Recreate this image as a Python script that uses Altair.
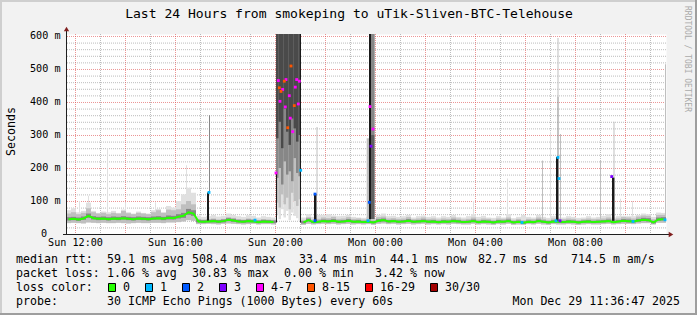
import altair as alt
import pandas as pd

MONO = "DejaVu Sans Mono"
LEFT, TOP = 66, 34          # plot origin inside the 697x315 page
T_START, T_END = 11.64, 35.64   # hours since Sun 00:00
BIN_H = 0.2                 # 12-minute bins
Y_TOP = 606                 # ms at top of plot

# ---------------- data (ms) ----------------
median_ms = [45, 46, 44, 47, 55, 48, 46, 47, 45, 47, 46, 48, 46, 45, 47, 46, 45, 47, 48, 46,
             49, 48, 52, 55, 66, 62,
             38, 37, 38, 39, 37, 39, 43, 41, 38, 37, 39, 38, 36, 38, 37, 36,
             None, None, None, None, None,
             35, 42, 36, 37, 39, 38, 40, 37, 38, 40, 37, 38, 36, 37, 35, 40, 42, 38, 39, 37,
             38, 40, 37, 38, 39, 37, 38, 36, 38, 37, 39, 38, 36, 37, 39, 36, 38, 37, 35, 38,
             37, 39, 35, 37, 34, 37, 36, 39, 37, 35, 38, 37, 36, 38, 37, 35, 37, 38, 36, 37,
             38, 39, 36, 38, 40, 39, 38, 41, 43, 42, 35, 44, 45]
smoke_lo = [33, 34, 33, 32, 35, 34, 33, 34, 33, 33, 34, 33, 32, 33, 34, 33, 33, 34, 34, 33,
            35, 35, 36, 38, 42, 40,
            30, 30, 31, 30, 29, 31, 32, 31, 30, 29, 30, 31, 29, 30, 30, 29,
            None, None, None, None, None,
            28, 31, 29, 30, 31, 30, 31, 29, 30, 31, 29, 30, 29, 30, 28, 31, 32, 30, 31, 29,
            30, 31, 29, 30, 31, 29, 30, 29, 30, 29, 31, 30, 29, 29, 31, 29, 30, 29, 28, 30,
            29, 31, 28, 29, 28, 30, 29, 31, 29, 28, 30, 29, 29, 30, 29, 28, 29, 30, 29, 29,
            30, 31, 29, 30, 31, 31, 30, 32, 33, 33, 29, 34, 34]
smoke_dark_lo = [41, 42, 40, 43, 49, 44, 42, 43, 41, 43, 42, 44, 42, 41, 43, 42, 41, 43, 44, 42,
                 44, 44, 47, 49, 58, 55,
                 35, 34, 35, 35, 34, 35, 39, 37, 35, 34, 35, 35, 33, 35, 34, 33,
                 None, None, None, None, None,
                 32, 38, 33, 34, 36, 35, 36, 34, 35, 36, 34, 35, 33, 34, 32, 36, 38, 35, 36, 34,
                 35, 36, 34, 35, 36, 34, 35, 33, 35, 34, 36, 35, 33, 34, 36, 33, 35, 34, 32, 35,
                 34, 36, 32, 34, 31, 34, 33, 36, 34, 32, 35, 34, 33, 35, 34, 32, 34, 35, 33, 34,
                 35, 36, 33, 35, 36, 35, 35, 37, 39, 38, 32, 40, 41]
smoke_dark_hi = [51, 52, 50, 53, 62, 54, 52, 53, 51, 53, 52, 54, 52, 51, 53, 52, 51, 53, 54, 52,
                 56, 55, 60, 64, 76, 72,
                 43, 42, 43, 44, 42, 44, 48, 46, 43, 42, 44, 43, 41, 43, 42, 41,
                 None, None, None, None, None,
                 39, 47, 40, 41, 44, 43, 45, 41, 42, 45, 41, 42, 40, 41, 39, 45, 47, 42, 43, 41,
                 42, 45, 41, 42, 44, 41, 42, 40, 42, 41, 44, 42, 40, 41, 44, 40, 42, 41, 39, 42,
                 41, 44, 39, 41, 38, 41, 40, 44, 41, 39, 42, 41, 40, 42, 41, 39, 41, 42, 40, 41,
                 42, 44, 40, 42, 45, 44, 42, 46, 49, 48, 40, 50, 51]
smoke_mid_hi = [62, 66, 60, 64, 78, 66, 62, 64, 60, 64, 62, 70, 63, 60, 64, 62, 60, 66, 72, 64,
                74, 72, 75, 90, 100, 90,
                46, 44, 45, 47, 44, 46, 51, 49, 45, 44, 47, 45, 43, 45, 44, 43,
                None, None, None, None, None,
                43, 51, 44, 46, 50, 48, 52, 46, 47, 51, 46, 47, 44, 46, 43, 51, 53, 47, 48, 46,
                47, 51, 45, 47, 50, 46, 47, 44, 47, 46, 50, 47, 44, 46, 50, 44, 47, 46, 43, 47,
                46, 50, 43, 46, 42, 46, 45, 50, 46, 43, 47, 46, 45, 47, 46, 43, 45, 47, 45, 46,
                47, 50, 45, 47, 51, 50, 47, 53, 56, 55, 45, 58, 58]
smoke_light_hi = [72, 78, 66, 70, 95, 70, 64, 68, 66, 70, 64, 74, 66, 62, 68, 64, 62, 72, 76, 66,
                  85, 80, 100, 120, 140, 125,
                  56, 52, 54, 58, 53, 55, 62, 58, 54, 52, 57, 55, 50, 54, 52, 50,
                  None, None, None, None, None,
                  50, 60, 52, 58, 58, 60, 56, 54, 55, 58, 52, 50, 49, 52, 48, 58, 62, 54, 55, 52,
                  54, 58, 50, 54, 56, 52, 54, 50, 54, 52, 58, 52, 50, 54, 60, 52, 55, 50, 49, 54,
                  50, 60, 48, 52, 58, 52, 50, 58, 52, 49, 54, 50, 50, 54, 52, 49, 50, 54, 50, 52,
                  55, 60, 50, 54, 55, 54, 54, 58, 62, 60, 52, 65, 64]

# 20:00-21:00 event: ten 6-minute columns, smoke reaching the top
OUT_START, OUT_COL_H = 20.04, 0.1
out_light_lo = [60, 45, 75, 50, 70, 42, 65, 55, 48, 40]
out_mid_lo = [95, 80, 120, 90, 110, 75, 125, 100, 85, 105]
out_dark_lo = [170, 200, 150, 220, 180, 190, 160, 230, 185, 175]
out_vdark_lo = [290, 340, 260, 380, 310, 270, 350, 320, 280, 300]

# narrow spikes / dense columns
bar_t0 = [12.16, 12.52, 13.28, 14.00, 15.20, 16.44, 17.28, 17.36, 21.56, 21.66, 23.668, 23.76,
          23.84, 23.84, 27.92, 29.28, 30.68, 31.00, 31.24, 31.30, 31.30, 31.40, 33.00, 33.48,
          33.54, 33.80, 34.28, 35.60, 20.04, 21.00]
bar_t1 = [12.20, 12.56, 13.32, 14.04, 15.24, 16.48, 17.36, 17.40, 21.66, 21.70, 23.76, 23.84,
          23.988, 23.988, 27.96, 29.32, 30.72, 31.04, 31.34, 31.34, 31.34, 31.44, 33.04, 33.58,
          33.58, 33.84, 34.32, 35.64, 20.08, 21.04]
bar_lo = [45, 45, 45, 45, 45, 60, 36, 126, 36, 122, 40, 45, 45, 300, 40, 40, 40, 40, 36, 233,
          416, 40, 40, 40, 171, 40, 40, 45, 35, 35]
bar_hi = [100, 116, 260, 96, 96, 208, 126, 360, 122, 324, 290, 606, 300, 606, 100, 168, 223,
          310, 233, 416, 594, 303, 223, 171, 340, 107, 100, 514, 185, 606]
bar_shade = ["light", "light", "light", "light", "light", "light", "black", "dark", "black",
             "mid", "mid", "black", "deep", "dark", "light", "light", "mid", "light", "black",
             "dark", "mid", "mid", "mid", "black", "mid", "light", "light", "mid", "black",
             "black"]

# median samples drawn in a loss colour
dot_t = [20.132, 20.44, 20.372, 20.308, 20.172, 20.24, 20.20, 20.412, 20.64, 20.812, 20.868,
         20.972, 20.572, 20.612, 20.932, 20.772, 20.508, 20.708, 20.04, 21.028,
         17.36, 21.60, 21.60, 19.20, 23.72, 23.772, 23.80, 23.84, 23.92, 29.88, 31.24, 31.32,
         31.36, 31.40, 33.468, 34.32, 35.60]
dot_ms = [465, 468, 463, 438, 443, 432, 402, 385, 509, 445, 468, 463, 419, 351, 394, 389, 322,
          310, 185, 193,
          126, 121, 40, 42, 40, 96, 386, 266, 318, 35, 40, 232, 168, 40, 174, 38, 43]
dot_loss = ["4-7", "4-7", "8-15", "4-7", "8-15", "8-15", "4-7", "4-7", "8-15", "4-7", "4-7",
            "4-7", "4-7", "4-7", "4-7", "8-15", "8-15", "4-7", "4-7", "1",
            "1", "2", "2", "1", "1", "2", "4-7", "3", "4-7", "1", "1", "1", "1", "3", "3", "1", "1"]

loss_labels = ["0", "1", "2", "3", "4-7", "8-15", "16-29", "30/30"]
loss_colors = ["#26ff00", "#00b8ff", "#0059ff", "#7e00ff", "#ff00ff", "#ff5500", "#ff0000", "#a10000"]
shade_names = ["light", "mid", "dark", "deep", "vdeep", "black"]
shade_colors = ["#e0e0e0", "#bfbfbf", "#878787", "#606060", "#4a4a4a", "#1a1a1a"]

x_major = [12, 14, 16, 18, 20, 22, 24, 26, 28, 30, 32, 34]
x_minor = [13, 15, 17, 19, 21, 23, 25, 27, 29, 31, 33, 35]
x_labels = [12, 16, 20, 24, 28, 32]
y_labels = [100, 200, 300, 400, 500, 600]
y_major = [100, 200, 300, 400, 500, 600]
y_minor = [v for v in range(20, 600, 20) if v % 100]

title_text = "Last 24 Hours from smokeping to uTik-Sliven-BTC-Telehouse"
rtt_items = [("median rtt:", 16), ("59.1 ms avg", 107), ("508.4 ms max", 192), ("33.4 ms min", 299),
             ("44.1 ms now", 390), ("82.7 ms sd", 478), ("714.5 m am/s", 571)]
loss_items = [("packet loss:", 16), ("1.06 % avg", 107), ("30.83 % max", 192), ("0.00 % min", 284),
              ("3.42 % now", 375)]
probe_text = "30 ICMP Echo Pings (1000 Bytes) every 60s"
date_text = "Mon Dec 29 11:36:47 2025"

# ---------------- tables ----------------
rows = []
for i, m in enumerate(median_ms):
    if m is None:
        continue
    a = T_START + i * BIN_H
    b = a + BIN_H
    rows.append(dict(t0=a, t1=b, lo=smoke_lo[i], hi=smoke_light_hi[i], shade="light"))
    rows.append(dict(t0=a, t1=b, lo=smoke_lo[i], hi=smoke_mid_hi[i], shade="mid"))
    rows.append(dict(t0=a, t1=b, lo=smoke_dark_lo[i], hi=smoke_dark_hi[i], shade="dark"))
for j in range(len(out_light_lo)):
    a = OUT_START + j * OUT_COL_H
    b = a + OUT_COL_H
    for lst, sh in ((out_light_lo, "light"), (out_mid_lo, "mid"), (out_dark_lo, "dark"), (out_vdark_lo, "vdeep")):
        rows.append(dict(t0=a, t1=b, lo=lst[j], hi=Y_TOP, shade=sh))
for a, b, lo, hi, sh in zip(bar_t0, bar_t1, bar_lo, bar_hi, bar_shade):
    rows.append(dict(t0=a, t1=b, lo=lo, hi=hi, shade=sh))
smoke = pd.DataFrame(rows)
smoke["rank"] = smoke["shade"].map({n: k for k, n in enumerate(shade_names)})
smoke = smoke.sort_values("rank", kind="stable").reset_index(drop=True)

mrows, seg = [], 0
for i, m in enumerate(median_ms):
    if m is None:
        seg += 1
        continue
    mrows.append(dict(t=T_START + (i + 0.5) * BIN_H, ms=m, seg=seg))
med = pd.DataFrame(mrows)
dots = pd.DataFrame({"t": dot_t, "ms": dot_ms, "loss": dot_loss})

# ---------------- scales / axes ----------------
xs = alt.Scale(domain=[T_START, T_END], nice=False, zero=False)
ys = alt.Scale(domain=[0, Y_TOP], nice=False, zero=True)
xaxis = alt.Axis(values=x_labels, grid=False, ticks=False, domain=False, title=None,
                 labelPadding=3, labelFlush=False, labelOverlap=False,
                 labelExpr="(datum.value < 24 ? 'Sun ' : 'Mon ') + (datum.value % 24 < 10 ? '0' : '') + (datum.value % 24) + ':00'")
yaxis = alt.Axis(values=y_labels, grid=False, ticks=False, domain=False, title=None,
                 labelPadding=6, labelOverlap=False,
                 labelExpr="datum.value + ' m'")


def X(f):
    return alt.X(f, type="quantitative", scale=xs, axis=xaxis)


def Y(f):
    return alt.Y(f, type="quantitative", scale=ys, axis=yaxis)


GRID = "#8f8f8f"
MGRID = "#de4f4f"
layers = []
layers.append(alt.Chart(pd.DataFrame({"t": x_minor})).mark_rule(color=GRID, opacity=0.6, strokeDash=[1, 1], xOffset=0.5).encode(x=X("t")))
layers.append(alt.Chart(pd.DataFrame({"v": y_minor})).mark_rule(color=GRID, opacity=0.6, strokeDash=[1, 1], yOffset=0.5).encode(y=Y("v")))
layers.append(alt.Chart(pd.DataFrame({"t": x_major})).mark_rule(color=MGRID, opacity=0.6, strokeDash=[1, 1], xOffset=0.5).encode(x=X("t")))
layers.append(alt.Chart(pd.DataFrame({"v": y_major})).mark_rule(color=MGRID, opacity=0.6, strokeDash=[1, 1], yOffset=0.5).encode(y=Y("v")))

layers.append(alt.Chart(smoke).mark_rect().encode(
    x=X("t0"), x2="t1", y=Y("lo"), y2="hi",
    color=alt.Color("shade:N", scale=alt.Scale(domain=shade_names, range=shade_colors), legend=None)))
layers.append(alt.Chart(med).mark_line(color="#26ff00", strokeWidth=2).encode(
    x=X("t"), y=Y("ms"), detail="seg:N"))
layers.append(alt.Chart(dots).mark_square(size=8, opacity=1).encode(
    x=X("t"), y=Y("ms"),
    color=alt.Color("loss:N", scale=alt.Scale(domain=loss_labels, range=loss_colors), legend=None)))

ONE = pd.DataFrame({"k": [0]})
AXIS_C = "#1f1f1f"
ARROW_C = "#801f1f"
# axis lines and arrows
layers.append(alt.Chart(ONE).mark_rule(color=AXIS_C, xOffset=0.5).encode(x=alt.value(0), y=alt.value(-4), y2=alt.value(201)))
layers.append(alt.Chart(ONE).mark_rule(color=AXIS_C, yOffset=0.5).encode(y=alt.value(200), x=alt.value(-3), x2=alt.value(604)))
layers.append(alt.Chart(ONE).mark_point(shape="triangle-up", filled=True, size=28, opacity=1, color=ARROW_C).encode(x=alt.value(0.5), y=alt.value(-5)))
layers.append(alt.Chart(ONE).mark_point(shape="triangle-right", filled=True, size=28, opacity=1, color=ARROW_C).encode(x=alt.value(605), y=alt.value(200.5)))

# zero label of the y axis (unit column left blank, as in the original)
layers.append(alt.Chart(ONE).mark_text(text="0", font=MONO, fontSize=10.15, align="right", baseline="middle",
                                       color="#000000").encode(x=alt.value(47 - LEFT), y=alt.value(200)))

# frame shading
W, H = 697, 315
for (x0, x1, y0, y1, c) in [(0, W, 0, 2, "#cfcfcf"), (0, 2, 0, H, "#cfcfcf"),
                            (0, W, H - 2, H, "#9e9e9e"), (W - 2, W, 0, H, "#9e9e9e")]:
    layers.append(alt.Chart(ONE).mark_rect(color=c).encode(
        x=alt.value(x0 - LEFT), x2=alt.value(x1 - LEFT), y=alt.value(y0 - TOP), y2=alt.value(y1 - TOP)))


def label(s, x_abs, y_abs, size=11.6, align="left", angle=0, color="#000000"):
    return alt.Chart(ONE).mark_text(text=s, font=MONO, fontSize=size, align=align, baseline="middle",
                                    angle=angle, color=color).encode(
        x=alt.value(x_abs - LEFT), y=alt.value(y_abs - TOP))


layers.append(label(title_text, 349, 14, size=13.05, align="center"))
layers.append(label("Seconds", 11.5, 131.5, size=11.6, align="center", angle=270))
layers.append(label("RRDTOOL / TOBI OETIKER", 687, 59, size=8, align="center", angle=90, color="#aaaaaa"))

ROW1, ROW2, ROW3, ROW4 = 260, 274, 288, 302
for s, x in rtt_items:
    layers.append(label(s, x, ROW1))
for s, x in loss_items:
    layers.append(label(s, x, ROW2))
layers.append(label("loss color:", 16, ROW3))
bx = 108
for lab, col in zip(loss_labels, loss_colors):
    layers.append(alt.Chart(ONE).mark_rect(fill=col, stroke="#000000", strokeWidth=1).encode(
        x=alt.value(bx + 0.5 - LEFT), x2=alt.value(bx + 7.5 - LEFT),
        y=alt.value(283.5 - TOP), y2=alt.value(291.5 - TOP)))
    layers.append(label(lab, bx + 15, ROW3))
    bx += 30 + 7 * len(lab)
layers.append(label("probe:", 16, ROW4))
layers.append(label(probe_text, 107, ROW4))
layers.append(label(date_text, 680, ROW4, align="right"))

chart = alt.layer(*layers).resolve_scale(color="independent").properties(
    width=600, height=200,
    autosize=alt.AutoSizeParams(type="none"),
    padding={"left": LEFT, "top": TOP, "right": W - LEFT - 600, "bottom": H - TOP - 200},
).configure(background="#f2f2f2").configure_view(fill="white", stroke="transparent").configure_axis(
    labelFont=MONO, labelFontSize=10.15, labelColor="#000000")

chart.save("out.html", embed_options={"renderer": "svg", "actions": False})
